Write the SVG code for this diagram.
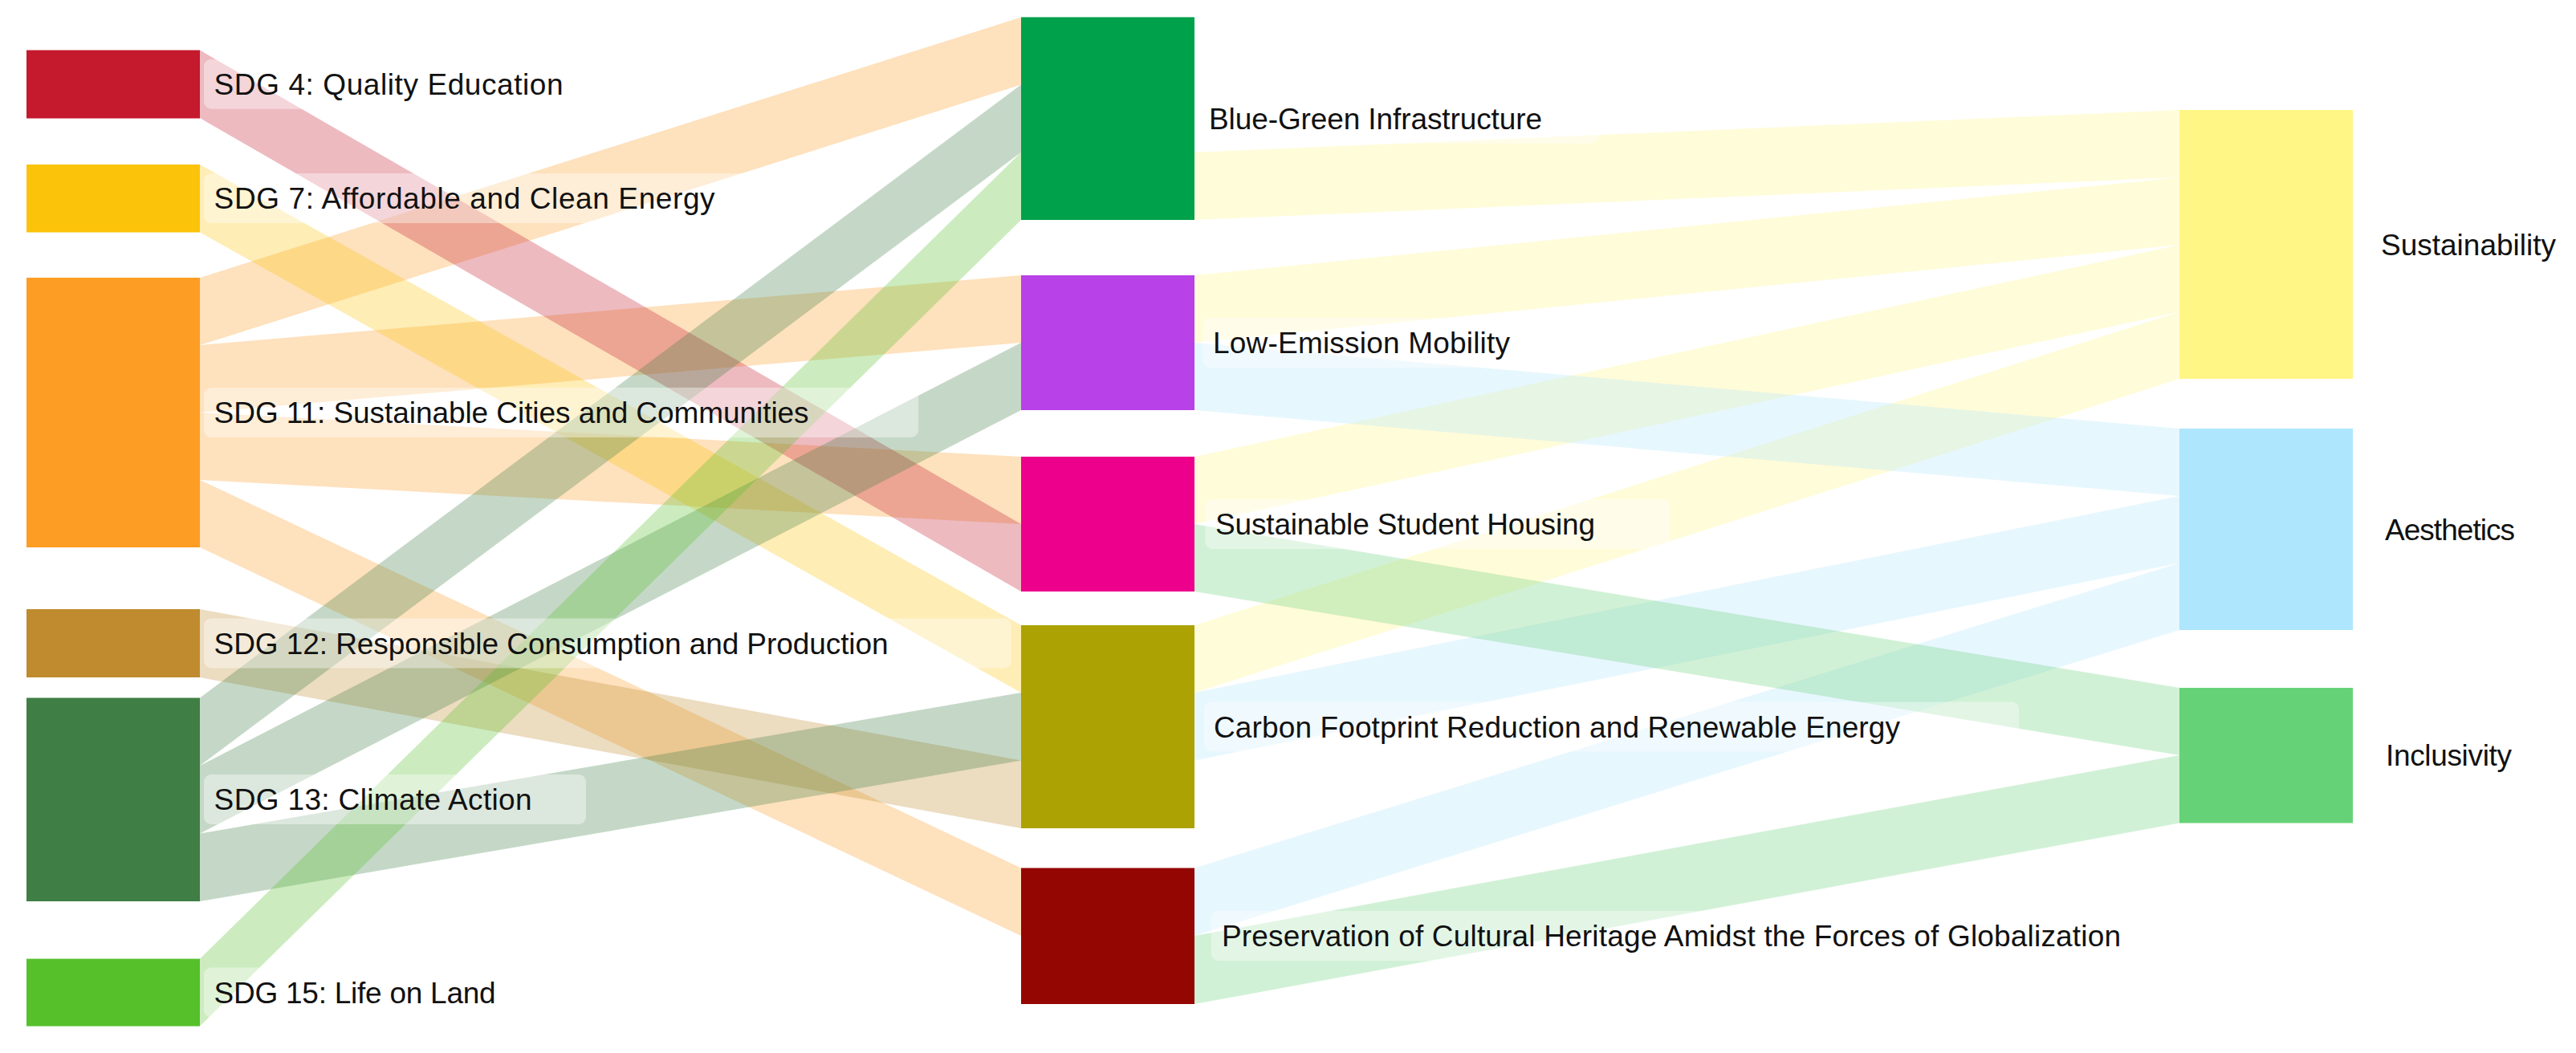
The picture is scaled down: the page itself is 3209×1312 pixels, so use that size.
<svg xmlns="http://www.w3.org/2000/svg" width="3209" height="1312" viewBox="0 0 3209 1312">
<style>
.link { fill-opacity: 0.3; stroke: none; }
.lbg { fill: #ffffff; fill-opacity: 0.4; }
.lbl { font-family: "Liberation Sans", Arial, sans-serif; font-size: 37px; fill: #111111; }
</style>
<rect x="0" y="0" width="3209" height="1312" fill="#ffffff"/>
<g id="links">
  <path class="link" fill="#FD9D24" d="M249,346 L1272,21.4 L1272,105.6 L249,430 Z"/>
  <path class="link" fill="#FD9D24" d="M249,430 L1272,343 L1272,427 L249,514 Z"/>
  <path class="link" fill="#FD9D24" d="M249,514 L1272,569 L1272,653 L249,598 Z"/>
  <path class="link" fill="#FD9D24" d="M249,598 L1272,1081.5 L1272,1166 L249,682 Z"/>
  <path class="link" fill="#C5192D" d="M249,62.5 L1272,653 L1272,737 L249,147 Z"/>
  <path class="link" fill="#FCC30B" d="M249,205 L1272,779 L1272,863 L249,289.5 Z"/>
  <path class="link" fill="#BF8B2E" d="M249,759 L1272,947.5 L1272,1032 L249,844 Z"/>
  <path class="link" fill="#3F7E44" d="M249,869.5 L1272,105.6 L1272,189.8 L249,954 Z"/>
  <path class="link" fill="#3F7E44" d="M249,954 L1272,427 L1272,511 L249,1038.5 Z"/>
  <path class="link" fill="#3F7E44" d="M249,1038.5 L1272,863 L1272,947.5 L249,1123 Z"/>
  <path class="link" fill="#56C02B" d="M249,1194.6 L1272,189.8 L1272,274 L249,1278.6 Z"/>
  <path class="link" fill="#FFF685" d="M1488,189.8 L2715,137 L2715,221 L1488,274 Z"/>
  <path class="link" fill="#FFF685" d="M1488,343 L2715,221 L2715,305 L1488,427 Z"/>
  <path class="link" fill="#FFF685" d="M1488,569 L2715,305 L2715,388.5 L1488,653 Z"/>
  <path class="link" fill="#FFF685" d="M1488,779 L2715,388.5 L2715,472 L1488,863 Z"/>
  <path class="link" fill="#AEE6FD" d="M1488,427 L2715,534 L2715,618 L1488,511 Z"/>
  <path class="link" fill="#AEE6FD" d="M1488,863 L2715,618 L2715,701.5 L1488,947.5 Z"/>
  <path class="link" fill="#AEE6FD" d="M1488,1081.5 L2715,701.5 L2715,785 L1488,1166 Z"/>
  <path class="link" fill="#66D277" d="M1488,653 L2715,857 L2715,941 L1488,737 Z"/>
  <path class="link" fill="#66D277" d="M1488,1166 L2715,941 L2715,1025.5 L1488,1251 Z"/>
</g>
<g id="node-sdg4">
  <rect x="33" y="62.5" width="216" height="85" fill="#C5192D"/>
  <rect class="lbg" x="254" y="73.7" width="522" height="62" rx="9"/>
  <text class="lbl" x="266.6" y="118" textLength="435">SDG 4: Quality Education</text>
</g>
<g id="node-sdg7">
  <rect x="33" y="205" width="216" height="84.5" fill="#FCC30B"/>
  <rect class="lbg" x="254" y="216" width="749" height="62" rx="9"/>
  <text class="lbl" x="266.6" y="260" textLength="624">SDG 7: Affordable and Clean Energy</text>
</g>
<g id="node-sdg11">
  <rect x="33" y="346" width="216" height="336" fill="#FD9D24"/>
  <rect class="lbg" x="254" y="483" width="890" height="62" rx="9"/>
  <text class="lbl" x="266.6" y="527" textLength="741">SDG 11: Sustainable Cities and Communities</text>
</g>
<g id="node-sdg12">
  <rect x="33" y="759" width="216" height="85" fill="#BF8B2E"/>
  <rect class="lbg" x="254" y="770.5" width="1006" height="62" rx="9"/>
  <text class="lbl" x="266.6" y="814.5" textLength="840">SDG 12: Responsible Consumption and Production</text>
</g>
<g id="node-sdg13">
  <rect x="33" y="869.5" width="216" height="253.5" fill="#3F7E44"/>
  <rect class="lbg" x="254" y="965" width="476" height="62" rx="9"/>
  <text class="lbl" x="266.6" y="1009" textLength="396">SDG 13: Climate Action</text>
</g>
<g id="node-sdg15">
  <rect x="33" y="1194.6" width="216" height="84" fill="#56C02B"/>
  <rect class="lbg" x="254" y="1205.6" width="421" height="62" rx="9"/>
  <text class="lbl" x="266.6" y="1249.6" textLength="351">SDG 15: Life on Land</text>
</g>
<g id="node-bluegreen">
  <rect x="1272" y="21.4" width="216" height="252.6" fill="#00A14B"/>
  <rect class="lbg" x="1493.5" y="116.7" width="498" height="62" rx="9"/>
  <text class="lbl" x="1506" y="161" textLength="415">Blue-Green Infrastructure</text>
</g>
<g id="node-mobility">
  <rect x="1272" y="343" width="216" height="168" fill="#B841E8"/>
  <rect class="lbg" x="1498.5" y="396" width="444" height="62" rx="9"/>
  <text class="lbl" x="1511" y="440" textLength="370">Low-Emission Mobility</text>
</g>
<g id="node-housing">
  <rect x="1272" y="569" width="216" height="168" fill="#EC008C"/>
  <rect class="lbg" x="1501.5" y="622" width="579" height="62" rx="9"/>
  <text class="lbl" x="1514" y="666" textLength="473">Sustainable Student Housing</text>
</g>
<g id="node-carbon">
  <rect x="1272" y="779" width="216" height="253" fill="#ACA203"/>
  <rect class="lbg" x="1500" y="874.5" width="1015" height="62" rx="9"/>
  <text class="lbl" x="1512" y="918.5" textLength="855">Carbon Footprint Reduction and Renewable Energy</text>
</g>
<g id="node-heritage">
  <rect x="1272" y="1081.5" width="216" height="169.5" fill="#940602"/>
  <rect class="lbg" x="1509" y="1135" width="1344" height="62" rx="9"/>
  <text class="lbl" x="1522" y="1179" textLength="1120">Preservation of Cultural Heritage Amidst the Forces of Globalization</text>
</g>
<g id="node-sustainability">
  <rect x="2715" y="137" width="216" height="335" fill="#FFF685"/>
  <rect class="lbg" x="2953.5" y="273.5" width="262" height="62" rx="9"/>
  <text class="lbl" x="2966" y="317.5" textLength="218">Sustainability</text>
</g>
<g id="node-aesthetics">
  <rect x="2715" y="534" width="216" height="251" fill="#AEE6FD"/>
  <rect class="lbg" x="2958.5" y="628.5" width="194" height="62" rx="9"/>
  <text class="lbl" x="2971" y="672.5" textLength="162">Aesthetics</text>
</g>
<g id="node-inclusivity">
  <rect x="2715" y="857" width="216" height="168.5" fill="#66D277"/>
  <rect class="lbg" x="2959.5" y="910" width="188" height="62" rx="9"/>
  <text class="lbl" x="2972" y="954" textLength="157">Inclusivity</text>
</g>
</svg>
